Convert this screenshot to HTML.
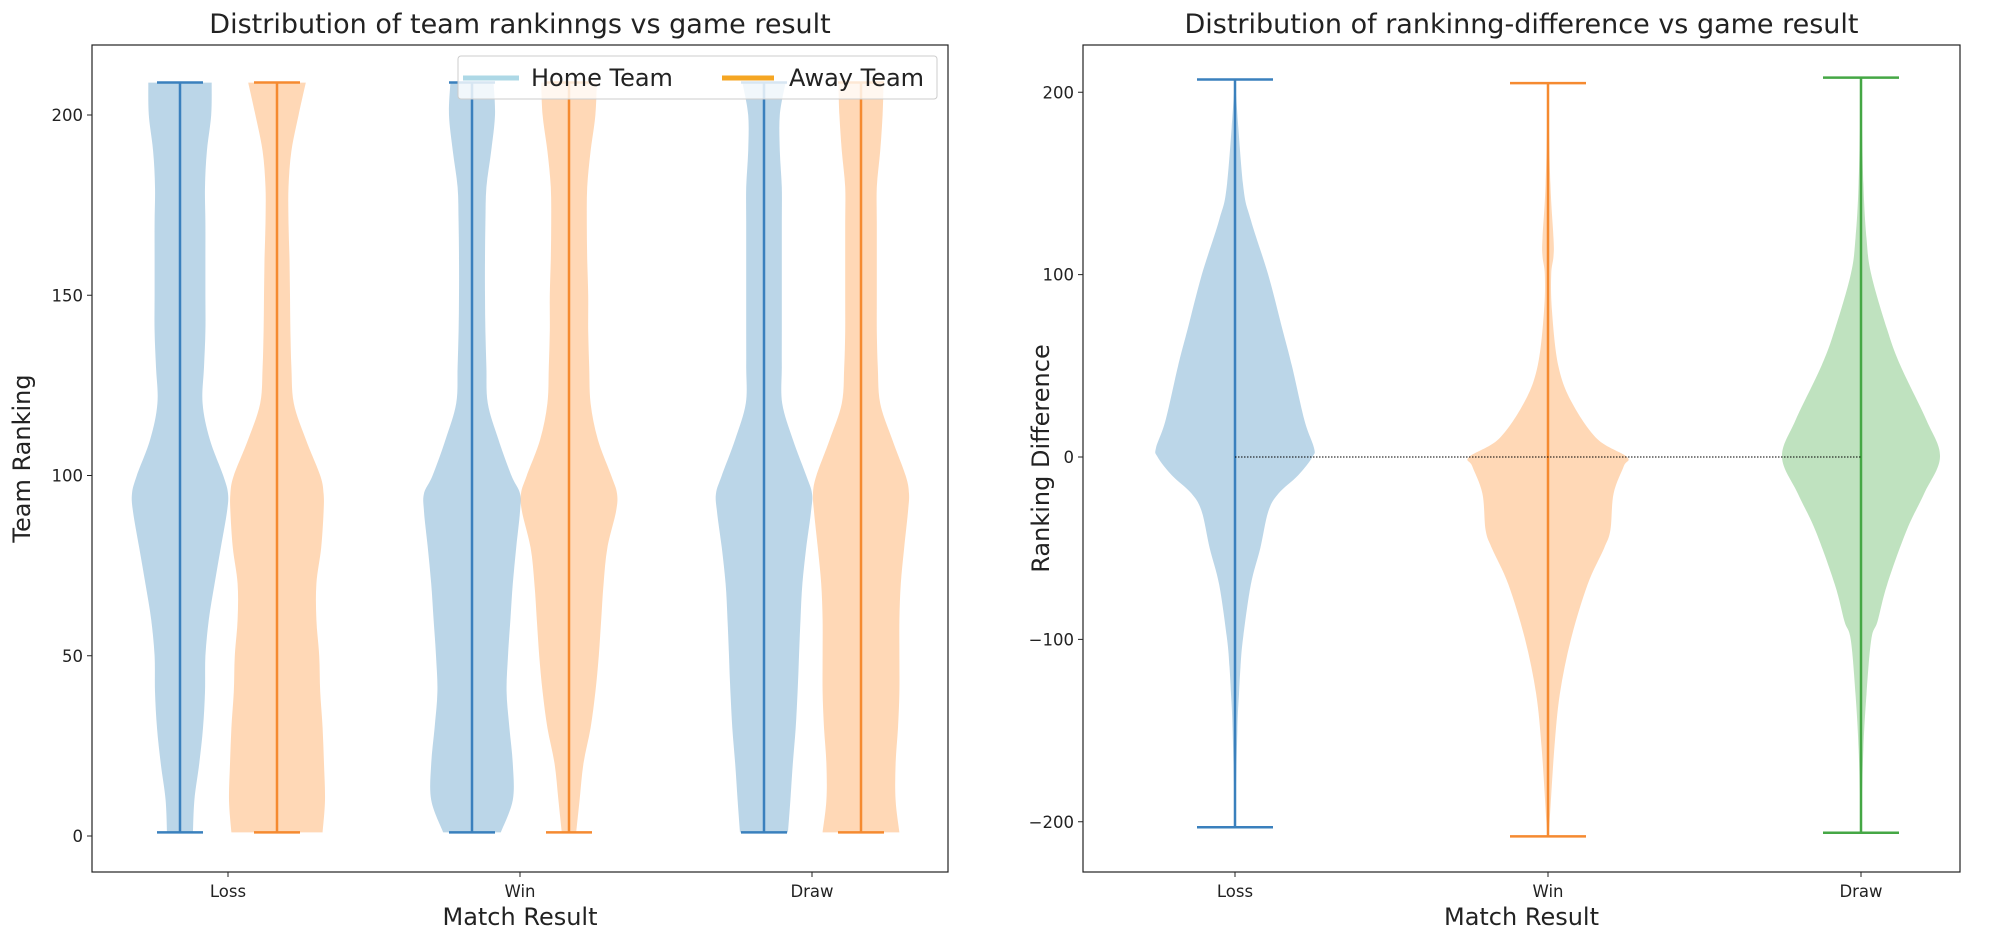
<!DOCTYPE html>
<html><head><meta charset="utf-8"><style>
body{margin:0;background:#fff;}
svg text{font-family:"DejaVu Sans","Liberation Sans",sans-serif;fill:#222;}
</style></head><body>
<svg id="chart" width="1996" height="944" viewBox="0 0 1996 944" xmlns="http://www.w3.org/2000/svg"></svg>
<script>
const categories = ["Loss","Win","Draw"];
// left panel: rank samples and normalized densities
const rankLevels = [1,10,20,30,40,50,60,70,80,90,95,100,110,120,130,140,150,160,170,180,190,200,209];
const homeDensity = [
 [0.27,0.3,0.4,0.48,0.52,0.53,0.6,0.72,0.85,0.98,1,0.9,0.62,0.47,0.5,0.53,0.53,0.53,0.53,0.52,0.56,0.65,0.66],
 [0.6,0.85,0.85,0.78,0.72,0.75,0.8,0.85,0.92,1,1,0.82,0.55,0.33,0.3,0.28,0.27,0.27,0.28,0.3,0.4,0.48,0.45],
 [0.5,0.55,0.6,0.66,0.7,0.73,0.76,0.8,0.88,0.98,1,0.88,0.6,0.38,0.37,0.37,0.37,0.37,0.37,0.37,0.33,0.33,0.45]
];
const awayDensity = [
 [0.95,1,0.98,0.95,0.9,0.88,0.82,0.82,0.92,0.97,0.97,0.9,0.6,0.35,0.3,0.28,0.27,0.26,0.24,0.24,0.3,0.45,0.6],
 [0.15,0.22,0.3,0.45,0.55,0.62,0.67,0.72,0.8,0.98,1,0.88,0.6,0.45,0.42,0.4,0.4,0.38,0.37,0.38,0.45,0.55,0.58],
 [0.8,0.72,0.72,0.77,0.8,0.8,0.8,0.83,0.9,0.98,1,0.93,0.65,0.4,0.35,0.33,0.33,0.33,0.33,0.33,0.4,0.45,0.47]
];
const rankMin = [1,1,1];
const rankMax = [209,209,209];
const leftTicks = [0,50,100,150,200];
// right panel: ranking difference
const diffLevels = [
 [-203,-150,-130,-115,-100,-70,-50,-30,-20,-10,0,5,20,50,70,100,130,150,207],
 [-208,-200,-160,-130,-100,-70,-50,-40,-20,-5,0,10,30,50,80,100,110,120,150,205],
 [-206,-160,-130,-100,-90,-70,-40,-20,0,20,50,70,100,120,150,208]
];
const diffDensity = [
 [0,0.03,0.05,0.07,0.1,0.2,0.32,0.42,0.55,0.8,0.98,1,0.88,0.72,0.6,0.42,0.2,0.1,0],
 [0,0.02,0.08,0.15,0.29,0.5,0.71,0.79,0.83,0.96,1,0.62,0.3,0.13,0.05,0.04,0.07,0.07,0.03,0],
 [0,0.03,0.07,0.13,0.21,0.33,0.58,0.8,1,0.83,0.5,0.33,0.13,0.07,0.03,0]
];
const diffMin = [-203,-208,-206];
const diffMax = [207,205,208];
const rightTicks = [-200,-100,0,100,200];

const NS="http://www.w3.org/2000/svg";
const svg=document.getElementById('chart');
function mk(tag,attrs,parent){const e=document.createElementNS(NS,tag);for(const k in attrs)e.setAttribute(k,attrs[k]);(parent||svg).appendChild(e);return e;}

const FBLUE="#1f77b4",FORANGE="#ff7f0e",FGREEN="#2ca02c";
const LBLUE="#3a80bd",LORANGE="#f58a30",LGREEN="#45a745";
function smooth(pts){
  let d="M"+pts[0][0].toFixed(1)+","+pts[0][1].toFixed(1);
  for(let i=0;i<pts.length-1;i++){
    const p0=pts[Math.max(0,i-1)],p1=pts[i],p2=pts[i+1],p3=pts[Math.min(pts.length-1,i+2)];
    const c1=[p1[0]+(p2[0]-p0[0])/6,p1[1]+(p2[1]-p0[1])/6];
    const c2=[p2[0]-(p3[0]-p1[0])/6,p2[1]-(p3[1]-p1[1])/6];
    d+=` C${c1[0].toFixed(1)},${c1[1].toFixed(1)} ${c2[0].toFixed(1)},${c2[1].toFixed(1)} ${p2[0].toFixed(1)},${p2[1].toFixed(1)}`;
  }
  return d;
}
function violin(g,cx,levels,dens,maxHw,ys,color,name){
  let r=[],l=[];
  for(let i=0;i<levels.length;i++){const y=ys(levels[i]);r.push([cx+dens[i]*maxHw,y]);l.push([cx-dens[i]*maxHw,y]);}
  l.reverse();
  let d=smooth(r)+" L"+smooth(l).slice(1)+" Z";
  const p=mk('path',{d:d,fill:color,'fill-opacity':0.3,stroke:'none'},g);
  
  
}
function extrema(g,cx,lo,hi,cap,ys,color,name){
  const e=mk('g',{},g);
  
  
  mk('line',{x1:cx,x2:cx,y1:ys(lo),y2:ys(hi),stroke:color,'stroke-width':2.5},e);
  mk('line',{x1:cx-cap,x2:cx+cap,y1:ys(lo),y2:ys(lo),stroke:color,'stroke-width':2.5},e);
  mk('line',{x1:cx-cap,x2:cx+cap,y1:ys(hi),y2:ys(hi),stroke:color,'stroke-width':2.5},e);
}
function axes(g,L,R,T,B,ticks,ys,xs,title,ylab,ylabX){
  const t=mk('text',{x:(L+R)/2,y:33,'text-anchor':'middle','font-size':27},g);t.textContent=title;
  
  mk('rect',{x:L,y:T,width:R-L,height:B-T,fill:'none',stroke:'#222','stroke-width':1.2},g);
  ticks.forEach(v=>{const y=ys(v);mk('line',{x1:L-5,x2:L,y1:y,y2:y,stroke:'#222'},g);
    const tx=mk('text',{x:L-9,y:y+6,'text-anchor':'end','font-size':16.5},g);tx.textContent=String(v).replace('-','\u2212');
    });
  categories.forEach((c,i)=>{const x=xs(i);mk('line',{x1:x,x2:x,y1:B,y2:B+5,stroke:'#222'},g);
    const tx=mk('text',{x:x,y:B+25,'text-anchor':'middle','font-size':16.5},g);tx.textContent=c;
    });
  const xl=mk('text',{x:(L+R)/2,y:925,'text-anchor':'middle','font-size':24},g);xl.textContent='Match Result';
  
  const yl=mk('text',{x:ylabX,y:(T+B)/2,'text-anchor':'middle','font-size':24,transform:`rotate(-90 ${ylabX} ${(T+B)/2})`},g);yl.textContent=ylab;
  
}

// LEFT PANEL
const gL=mk('g',{});


const L1=92,R1=948,T1=45,B1=872;
const ysL=v=>836+(0-v)*(836-115)/200;
const xsL=i=>228+i*292;
categories.forEach((c,i)=>{
  violin(gL,xsL(i)-48,rankLevels,homeDensity[i],48,ysL,FBLUE,'home-violin-'+c.toLowerCase());
  violin(gL,xsL(i)+49,rankLevels,awayDensity[i],48,ysL,FORANGE,'away-violin-'+c.toLowerCase());
});
categories.forEach((c,i)=>{
  extrema(gL,xsL(i)-48,rankMin[i],rankMax[i],23,ysL,LBLUE,'home-range-'+c.toLowerCase());
  extrema(gL,xsL(i)+49,rankMin[i],rankMax[i],23,ysL,LORANGE,'away-range-'+c.toLowerCase());
});
axes(gL,L1,R1,T1,B1,leftTicks,ysL,xsL,'Distribution of team rankinngs vs game result','Team Ranking',30);
// legend
const lg=mk('g',{},gL);


mk('rect',{x:458,y:56,width:479,height:43,rx:3,fill:'#fff','fill-opacity':0.8,stroke:'#ccc'},lg);
mk('line',{x1:463,x2:519,y1:78,y2:78,stroke:'#add8e6','stroke-width':5},lg);
const t1=mk('text',{x:531,y:86,'font-size':24},lg);t1.textContent='Home Team';

mk('line',{x1:722,x2:774,y1:78,y2:78,stroke:'#f5a623','stroke-width':5},lg);
const t2=mk('text',{x:789,y:86,'font-size':24},lg);t2.textContent='Away Team';


// RIGHT PANEL
const gR=mk('g',{});


const L2=1083,R2=1960,T2=45,B2=872;
const ysR=v=>457-v*(825-95.5)/400;
const xsR=i=>1235+i*313;
const fcolors=[FBLUE,FORANGE,FGREEN];
const lcolors=[LBLUE,LORANGE,LGREEN];
categories.forEach((c,i)=>{
  violin(gR,xsR(i),diffLevels[i],diffDensity[i],79,ysR,fcolors[i],'diff-violin-'+c.toLowerCase());
});
categories.forEach((c,i)=>{
  extrema(gR,xsR(i),diffMin[i],diffMax[i],38,ysR,lcolors[i],'diff-range-'+c.toLowerCase());
});
const zl=mk('line',{x1:xsR(0),x2:xsR(2),y1:ysR(0),y2:ysR(0),stroke:'#000','stroke-width':1,'stroke-dasharray':'1.5,1.5'},gR);


axes(gR,L2,R2,T2,B2,rightTicks,ysR,xsR,'Distribution of rankinng-difference vs game result','Ranking Difference',1049);
</script>
</body></html>
